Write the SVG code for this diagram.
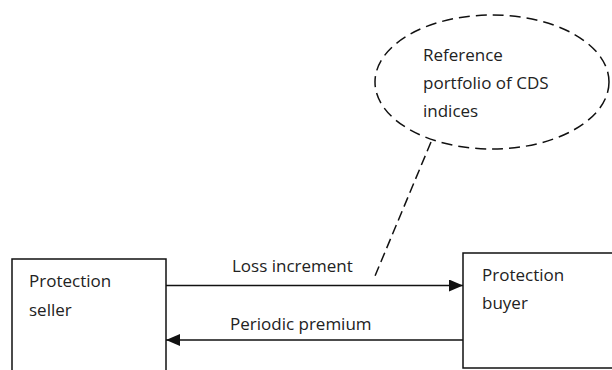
<svg xmlns="http://www.w3.org/2000/svg" width="612" height="370" viewBox="0 0 612 370">
<defs>
<style>
text{font-family:"Open Sans","Liberation Sans",sans-serif;font-size:17px;fill:#222}
.box{fill:#fff;stroke:#111;stroke-width:1.5}
.conn{stroke:#111;stroke-width:1.4;fill:none}
.dash{stroke:#111;stroke-width:1.5;fill:none;stroke-dasharray:11 6}
</style>
<marker id="ah" viewBox="0 0 14 12" refX="14" refY="6" markerWidth="14" markerHeight="12" markerUnits="userSpaceOnUse" orient="auto">
<path d="M0,0 L14,6 L0,12 Z" fill="#111"/>
</marker>
</defs>
<rect width="612" height="370" fill="#fff"/>
<g id="reference">
<ellipse cx="492" cy="82" rx="117" ry="67" fill="none" class="dash"/>
<text x="423" y="61">Reference</text>
<text x="423" y="89">portfolio of CDS</text>
<text x="423" y="117">indices</text>
</g>
<g id="seller">
<rect class="box" x="12" y="259" width="154" height="120"/>
<text x="29" y="287">Protection</text>
<text x="29" y="316">seller</text>
</g>
<g id="buyer">
<rect class="box" x="463" y="253" width="160" height="115"/>
<text x="482" y="281">Protection</text>
<text x="482" y="309">buyer</text>
</g>
<g id="connectors">
<line class="conn" x1="166" y1="285.5" x2="463" y2="285.5" marker-end="url(#ah)"/>
<line class="conn" x1="463" y1="340" x2="166" y2="340" marker-end="url(#ah)"/>
<line class="dash" x1="431" y1="142" x2="375" y2="276" style="stroke-dasharray:10 5"/>
<text x="232" y="272">Loss increment</text>
<text x="230" y="330">Periodic premium</text>
</g>
</svg>
